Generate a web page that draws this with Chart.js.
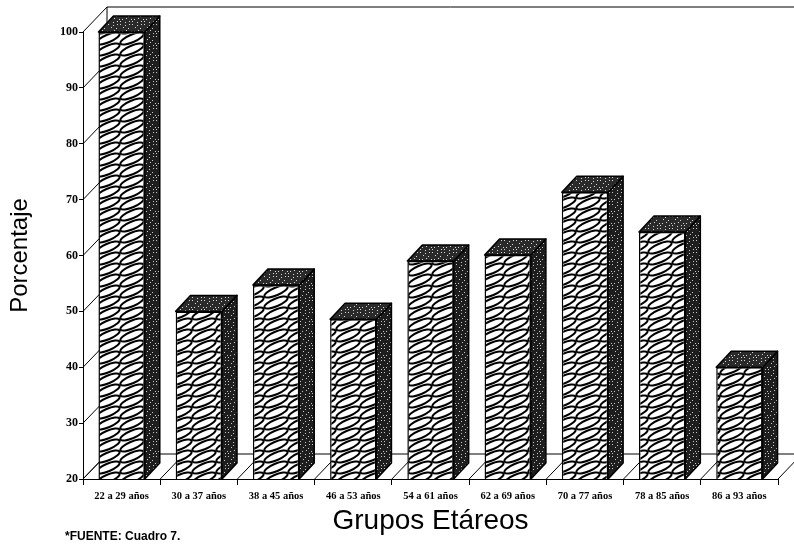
<!DOCTYPE html>
<html>
<head>
<meta charset="utf-8">
<script src="https://cdn.jsdelivr.net/npm/chart.js@4.4.0/dist/chart.umd.min.js"></script>
<style>
  html, body { margin: 0; padding: 0; background: #fff; }
</style>
</head>
<body>
<canvas id="grafico" width="794" height="544"></canvas>
<script>
// datos
const grupos = ['22 a 29 años', '30 a 37 años', '38 a 45 años', '46 a 53 años', '54 a 61 años',
                '62 a 69 años', '70 a 77 años', '78 a 85 años', '86 a 93 años'];
const porcentajes = [100, 50, 54.7, 48.6, 59, 60.1, 71.3, 64.2, 40];
const minY = 20;
const maxY = 100;
const pasoY = 10;

const canvas = document.getElementById('grafico');
const ctx = canvas.getContext('2d');

// profundidad de las barras y de las paredes
const prof = { x: 15, y: -16 };
const fondo = { x: 24, y: -25 };

// trama de malla (cara frontal)
function patronMalla() {
  const c = document.createElement('canvas');
  c.width = 24; c.height = 11;
  const g = c.getContext('2d');
  g.fillStyle = '#fff';
  g.fillRect(0, 0, 24, 11);
  g.strokeStyle = '#000';
  g.lineWidth = 2;
  for (const dx of [-24, 0, 24]) {
    for (const dy of [-11, 0, 11]) {
      g.beginPath();
      g.ellipse(12 + dx, 5.5 + dy, 12.5, 3.8, -0.4, 0, Math.PI * 2);
      g.stroke();
    }
  }
  return ctx.createPattern(c, 'repeat');
}

// punteado oscuro (caras laterales)
function patronPunteado(base, claro) {
  const c = document.createElement('canvas');
  c.width = 12; c.height = 12;
  const g = c.getContext('2d');
  g.fillStyle = base;
  g.fillRect(0, 0, 12, 12);
  g.fillStyle = claro;
  for (let i = 0; i < 12; i++) {
    for (let j = 0; j < 12; j++) {
      if ((i * 7 + j * 5 + i * j) % 9 === 0) g.fillRect(i, j, 1, 1);
    }
  }
  return ctx.createPattern(c, 'repeat');
}

const malla = patronMalla();
const punteadoLado = patronPunteado('#1e1e1e', '#c8c8c8');
const punteadoTapa = patronPunteado('#2a2a2a', '#d8d8d8');

function linea(c, x1, y1, x2, y2) {
  c.beginPath();
  c.moveTo(x1, y1);
  c.lineTo(x2, y2);
  c.stroke();
}

const cubo3d = {
  id: 'cubo3d',
  beforeDatasetsDraw(chart) {
    const { ctx: c, chartArea: a, scales: { x, y } } = chart;
    c.save();
    c.strokeStyle = '#000';
    c.lineWidth = 1;
    // pared izquierda
    y.ticks.forEach((t, i) => {
      const py = y.getPixelForTick(i);
      linea(c, a.left, py, a.left + fondo.x, py + fondo.y);
    });
    linea(c, a.left + fondo.x, a.top + fondo.y, a.left + fondo.x, a.bottom + fondo.y);
    // borde superior de la pared del fondo
    linea(c, a.left + fondo.x, a.top + fondo.y, chart.width, a.top + fondo.y);
    // piso
    linea(c, a.left + fondo.x, a.bottom + fondo.y, chart.width, a.bottom + fondo.y);
    for (let i = 0; i <= grupos.length; i++) {
      const px = x.getPixelForValue(i - 0.5);
      linea(c, px, a.bottom, px + fondo.x, a.bottom + fondo.y);
    }
    c.restore();
  },
  afterDatasetsDraw(chart) {
    const c = chart.ctx;
    const a = chart.chartArea;
    const meta = chart.getDatasetMeta(0);
    c.save();
    c.strokeStyle = '#000';
    c.lineWidth = 1.5;
    c.lineJoin = 'round';
    meta.data.forEach(bar => {
      const props = bar.getProps(['x', 'y', 'base', 'width'], true);
      const x = props.x, y = props.y, width = props.width;
      const base = Math.min(props.base, a.bottom);
      const izq = x - width / 2;
      const der = x + width / 2;
      // cara lateral
      c.beginPath();
      c.moveTo(der, y);
      c.lineTo(der + prof.x, y + prof.y);
      c.lineTo(der + prof.x, base + prof.y);
      c.lineTo(der, base);
      c.closePath();
      c.fillStyle = punteadoLado;
      c.fill();
      c.stroke();
      // tapa
      c.beginPath();
      c.moveTo(izq, y);
      c.lineTo(izq + prof.x, y + prof.y);
      c.lineTo(der + prof.x, y + prof.y);
      c.lineTo(der, y);
      c.closePath();
      c.fillStyle = punteadoTapa;
      c.fill();
      c.stroke();
    });
    c.restore();
  },
  afterDraw(chart) {
    const c = chart.ctx;
    c.save();
    c.fillStyle = '#000';
    c.font = 'bold 12px "Liberation Sans", Arial, sans-serif';
    c.textBaseline = 'middle';
    c.fillText('*FUENTE: Cuadro 7.', 65, 537);
    c.restore();
  }
};

new Chart(ctx, {
  type: 'bar',
  data: {
    labels: grupos,
    datasets: [{
      label: 'Porcentaje',
      data: porcentajes,
      backgroundColor: malla,
      borderColor: '#000',
      borderWidth: 1.5,
      barPercentage: 0.6,
      categoryPercentage: 1,
    }],
  },
  options: {
    responsive: false,
    animation: false,
    devicePixelRatio: 1,
    layout: { padding: { top: 32, right: 16, left: 0, bottom: 0 } },
    plugins: {
      legend: { display: false },
      tooltip: { enabled: false },
    },
    scales: {
      x: {
        afterFit: s => { s.height = 65; },
        grid: { drawOnChartArea: false, offset: true, tickLength: 6, color: '#000' },
        border: { display: true, color: '#000', width: 1 },
        ticks: {
          color: '#000',
          padding: 5,
          maxRotation: 0,
          autoSkip: false,
          font: { family: '"Liberation Serif", "Times New Roman", serif', size: 10.5, weight: 'bold' },
        },
        title: {
          display: true,
          text: 'Grupos Etáreos',
          color: '#000',
          font: { family: '"Liberation Sans", Arial, sans-serif', size: 28 },
          padding: { top: 0, bottom: 6 },
        },
      },
      y: {
        min: minY,
        max: maxY,
        afterFit: s => { s.width = 83; },
        grid: { drawOnChartArea: false, tickLength: 4, color: '#000' },
        border: { display: true, color: '#000', width: 1 },
        ticks: {
          stepSize: pasoY,
          color: '#000',
          padding: 1,
          font: { family: '"Liberation Serif", "Times New Roman", serif', size: 12, weight: 'bold' },
        },
        title: {
          display: true,
          text: 'Porcentaje',
          color: '#000',
          font: { family: '"Liberation Sans", Arial, sans-serif', size: 24 },
          padding: { top: 6, bottom: 0 },
        },
      },
    },
  },
  plugins: [cubo3d],
});
</script>
</body>
</html>
